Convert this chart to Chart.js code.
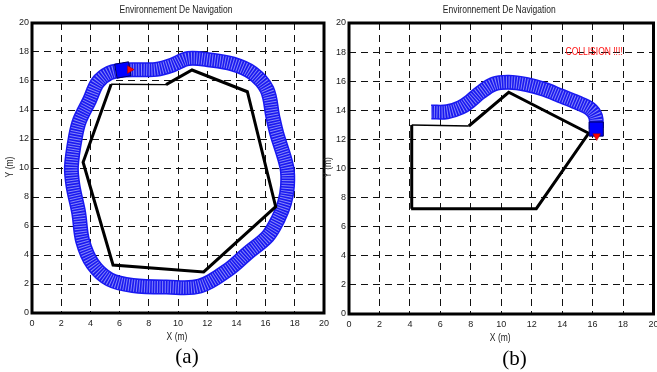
<!DOCTYPE html>
<html><head><meta charset="utf-8">
<script src="https://cdn.jsdelivr.net/npm/chart.js@4.4.1/dist/chart.umd.min.js"></script>
<style>
html,body{margin:0;padding:0;background:#fff;overflow:hidden;width:657px;height:372px;}
canvas{position:absolute;top:0;}
#ca{left:0;}
#cb{left:320px;}
</style></head><body>
<canvas id="ca" width="329" height="372"></canvas>
<canvas id="cb" width="338" height="372"></canvas>
<script>
// ---- texts ----
const titleText = 'Environnement De Navigation';
const xTitle = 'X (m)';
const yTitle = 'Y (m)';
const panelLabels = ['(a)', '(b)'];
const collisionText = 'COLLISION !!!!';
// ---- tick labels (both axes, both panels) ----
const axisTicks = [0, 2, 4, 6, 8, 10, 12, 14, 16, 18, 20];

// ---- panel (a) ----
const pathAx = [6.22, 7.5, 8.5, 9.6, 10.7, 12.2, 13.75, 15.1, 16.1, 16.5, 16.76, 17.45, 17.5, 17.3, 16.86, 16.15, 14.8, 13.5, 11.5, 9.2, 6.9, 5.32, 4.16, 3.47, 3.2, 2.81, 2.7, 2.98, 3.27, 3.95, 4.5, 5.3, 6.22];
const pathAy = [16.76, 16.78, 16.8, 17.1, 17.55, 17.45, 17.17, 16.55, 15.4, 13.5, 12.4, 10.07, 8.76, 7.6, 6.48, 5.3, 4.16, 3.03, 1.86, 1.79, 1.9, 2.31, 3.38, 4.97, 6.9, 8.76, 10.09, 12.16, 13.3, 14.69, 15.9, 16.55, 16.76];
const obstacleAx = [5.42, 9.18, 10.96, 14.75, 16.69, 11.76, 5.55, 3.5, 5.42];
const obstacleAy = [15.77, 15.75, 16.76, 15.26, 7.33, 2.83, 3.31, 10.4, 15.77];
const robotA = [6.22, 16.76];
const headingA = [6.69, 16.79];

// ---- panel (b) ----
const pathBx = [5.4, 6.45, 7.32, 7.97, 8.63, 9.5, 10.49, 11.69, 12.79, 13.88, 14.97, 15.84, 16.2, 16.24];
const pathBy = [13.88, 13.9, 14.19, 14.64, 15.22, 15.8, 15.93, 15.77, 15.45, 15.0, 14.54, 14.09, 13.55, 12.75];
const obstacleBx = [4.12, 7.87, 10.49, 15.74, 12.3, 4.08, 4.12];
const obstacleBy = [12.99, 12.92, 15.24, 12.42, 7.24, 7.24, 12.99];
const robotB = [16.24, 12.71];
const headingB = [16.27, 12.23];
const collisionAt = [16.1, 18.0];

const FONT = '"Liberation Sans", Arial, sans-serif';
const SERIF = '"Liberation Serif", "Times New Roman", serif';
const NARROW = 0.85; // horizontal squeeze to mimic the narrow Helvetica of the original

const pts = (xs, ys) => xs.map((x, i) => ({x, y: ys[i]}));

function narrowText(ctx, text, x, y, color, size, rot) {
  ctx.save();
  ctx.translate(x, y);
  if (rot) ctx.rotate(rot);
  ctx.scale(NARROW, 1);
  ctx.fillStyle = color;
  ctx.font = size + 'px ' + FONT;
  ctx.textAlign = 'center';
  ctx.textBaseline = 'middle';
  ctx.fillText(text, 0, 0);
  ctx.restore();
}

const framePlugin = {
  id: 'frame',
  afterDraw(chart, args, o) {
    const {ctx, chartArea: a} = chart;
    ctx.save();
    ctx.lineWidth = 3;
    ctx.strokeStyle = '#000';
    ctx.strokeRect(a.left, a.top, a.right - a.left, a.bottom - a.top);
    ctx.restore();
    const cx = (a.left + a.right) / 2;
    narrowText(ctx, titleText, cx - 2, 10.5, '#222', 10);
    narrowText(ctx, xTitle, cx - 1, o.xTitleY, '#222', 10);
    narrowText(ctx, yTitle, o.yTitleX, (a.top + a.bottom) / 2 - 1, '#222', 10, -Math.PI / 2);
    if (o.note) {
      narrowText(ctx, o.note, chart.scales.x.getPixelForValue(o.noteAt[0]), chart.scales.y.getPixelForValue(o.noteAt[1]), '#ff1010', 10);
    }
    ctx.save();
    ctx.fillStyle = '#000';
    ctx.font = '21px ' + SERIF;
    ctx.textAlign = 'center';
    ctx.textBaseline = 'middle';
    ctx.fillText(o.label, o.labelX, o.labelY);
    ctx.restore();
  }
};

function makeChart(id, cfg) {
  const datasets = [
    {data: [{x: cfg.heading[0], y: cfg.heading[1]}], pointStyle: 'triangle', pointRadius: 4.5, rotation: cfg.headRot,
     backgroundColor: '#ff0000', borderColor: '#900', borderWidth: 0.5, showLine: false},
    {data: [{x: cfg.robot[0], y: cfg.robot[1]}], pointStyle: 'rect', pointRadius: 10, rotation: cfg.robotRot,
     backgroundColor: '#0000ff', borderColor: '#000060', borderWidth: 1, showLine: false},
    {data: pts(cfg.obsX, cfg.obsY), showLine: true, pointRadius: 0, borderColor: '#000', borderWidth: 3,
     borderJoinStyle: 'miter', tension: 0,
     segment: {borderWidth: c => c.p0DataIndex === 0 ? 1.5 : 3}},
    {data: pts(cfg.pathX, cfg.pathY), showLine: true, pointRadius: 0, borderColor: 'rgba(205,205,255,0.6)',
     borderWidth: 12, borderDash: [1, 1.6], borderCapStyle: 'butt', tension: 0.35},
    {data: pts(cfg.pathX, cfg.pathY), showLine: true, pointRadius: 0, borderColor: 'rgb(25,25,240)',
     borderWidth: 15, borderCapStyle: 'butt', borderJoinStyle: 'round', tension: 0.35}
  ];
  const tickFont = {family: FONT, size: 9};
  return new Chart(document.getElementById(id), {
    type: 'scatter',
    data: {datasets},
    options: {
      responsive: false, animation: false, events: [],
      layout: {autoPadding: false, padding: {left: 0, top: 23, right: cfg.padRight, bottom: cfg.padBottom}},
      plugins: {
        legend: {display: false}, tooltip: {enabled: false}, title: {display: false},
        frame: {label: cfg.label, labelX: cfg.labelX, labelY: cfg.labelY, note: cfg.note, noteAt: cfg.noteAt,
                xTitleY: cfg.xTitleY, yTitleX: cfg.yTitleX}
      },
      scales: {
        x: {
          type: 'linear', min: 0, max: 20,
          afterBuildTicks: s => { s.ticks = axisTicks.map(v => ({value: v})); },
          afterFit: s => { s.height = cfg.xHeight; s.paddingLeft = 0; s.paddingRight = 0; },
          grid: {color: '#111', lineWidth: 1, drawTicks: false},
          border: {display: false, dash: [7, 5]},
          ticks: {padding: 5, color: '#222', font: tickFont, maxRotation: 0, autoSkip: false}
        },
        y: {
          type: 'linear', min: 0, max: 20,
          afterBuildTicks: s => { s.ticks = axisTicks.map(v => ({value: v})); },
          afterFit: s => { s.width = cfg.yWidth; s.paddingTop = 0; s.paddingBottom = 0; },
          grid: {color: '#111', lineWidth: 1, drawTicks: false},
          border: {display: false, dash: [7, 5]},
          ticks: {padding: 3, color: '#222', font: tickFont, autoSkip: false}
        }
      }
    },
    plugins: [framePlugin]
  });
}

makeChart('ca', {
  pathX: pathAx, pathY: pathAy, obsX: obstacleAx, obsY: obstacleAy,
  robot: robotA, heading: headingA, robotRot: -10, headRot: 90,
  padRight: 5, padBottom: 28, xHeight: 31, yWidth: 32, xTitleY: 337.5, yTitleX: 10,
  label: panelLabels[0], labelX: 187, labelY: 357
});
makeChart('cb', {
  pathX: pathBx, pathY: pathBy, obsX: obstacleBx, obsY: obstacleBy,
  robot: robotB, heading: headingB, robotRot: 0, headRot: 180,
  padRight: 4.5, padBottom: 26, xHeight: 32, yWidth: 29, xTitleY: 338.5, yTitleX: 8.5,
  label: panelLabels[1], labelX: 194.6, labelY: 359,
  note: collisionText, noteAt: collisionAt
});
</script>
</body></html>
